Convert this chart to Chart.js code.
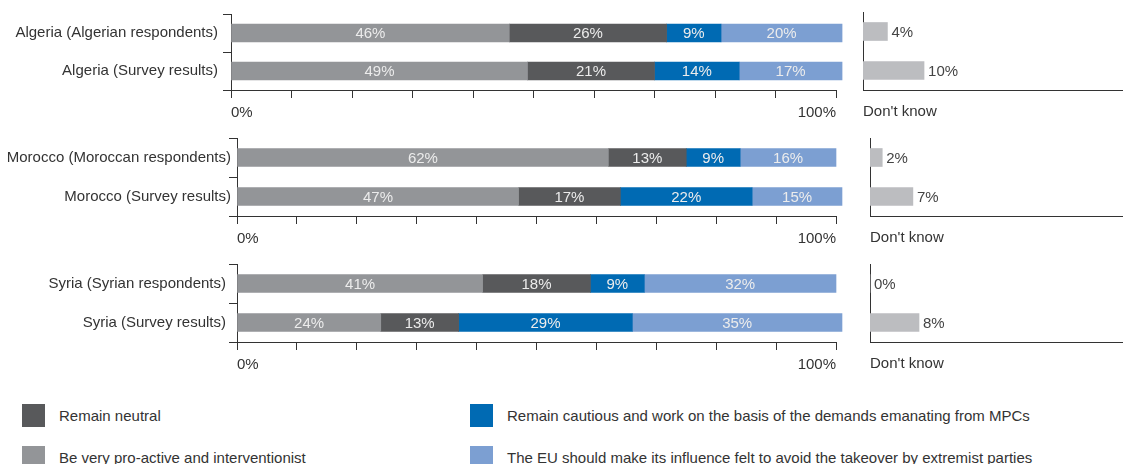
<!DOCTYPE html>
<html>
<head>
<meta charset="utf-8">
<script src="https://cdn.jsdelivr.net/npm/chart.js@4.4.1/dist/chart.umd.min.js"></script>
<style>
  html, body { margin: 0; padding: 0; background: #fff; }
  body { width: 1123px; height: 464px; position: relative; overflow: hidden;
         font-family: "Liberation Sans", Arial, sans-serif; color: #333; }
  canvas { position: absolute; }
  .legend-item { position: absolute; display: flex; align-items: center; gap: 14px; font-size: 15px; }
  .legend-item .swatch { width: 23px; height: 23px; flex-shrink: 0; }
</style>
</head>
<body>
<div id="wrap"></div>
<script>
// respondent groups, two per panel
const CATEGORIES = [
  'Algeria (Algerian respondents)', 'Algeria (Survey results)',
  'Morocco (Moroccan respondents)', 'Morocco (Survey results)',
  'Syria (Syrian respondents)',     'Syria (Survey results)',
];

const PROACTIVE    = [46, 49, 62, 47, 41, 24];
const NEUTRAL      = [26, 21, 13, 17, 18, 13];
const CAUTIOUS     = [ 9, 14,  9, 22,  9, 29];
const EU_INFLUENCE = [20, 17, 16, 15, 32, 35];
const DONT_KNOW    = [ 4, 10,  2,  7,  0,  8];

const SERIES_NAMES = [
  'Be very pro-active and interventionist',
  'Remain neutral',
  'Remain cautious and work on the basis of the demands emanating from MPCs',
  'The EU should make its influence felt to avoid the takeover by extremist parties',
];

const COLORS = {
  proactive: '#939598',
  neutral:   '#58595b',
  cautious:  '#006ab3',
  eu:        '#7c9fd2',
  dontKnow:  '#bcbdc0',
};

const AXIS  = '#333333';
const FONT  = { family: '"Liberation Sans", Arial, sans-serif', size: 15 };
const FONT_CSS = '15px "Liberation Sans", Arial, sans-serif';

// per panel placement
const PANEL_TOP   = [0, 126, 252];
const Y_AXIS_W    = [231, 237, 237];
const Y_LABEL_PAD = [5, -2, 3];
const DK_PAD_LEFT = [12, 19, 19];
const DK_MAX      = [42.6, 41.3, 41.3];

const segmentLabels = {
  id: 'segmentLabels',
  afterDatasetsDraw(chart) {
    const { ctx } = chart;
    ctx.save();
    ctx.font = FONT_CSS;
    ctx.fillStyle = '#ececec';
    ctx.textAlign = 'center';
    ctx.textBaseline = 'middle';
    chart.data.datasets.forEach((ds, i) => {
      chart.getDatasetMeta(i).data.forEach((bar, j) => {
        const v = ds.data[j];
        if (!v) return;
        ctx.fillText(v + '%', (bar.x + bar.base) / 2, bar.y + 1);
      });
    });
    ctx.restore();
  },
};

const endLabels = {
  id: 'endLabels',
  afterDatasetsDraw(chart) {
    const { ctx } = chart;
    ctx.save();
    ctx.font = FONT_CSS;
    ctx.fillStyle = '#444';
    ctx.textAlign = 'left';
    ctx.textBaseline = 'middle';
    const ds = chart.data.datasets[0];
    chart.getDatasetMeta(0).data.forEach((bar, j) => {
      ctx.fillText(ds.data[j] + '%', bar.x + 4, bar.y + 1);
    });
    ctx.restore();
  },
};

function addCanvas(left, top, w, h) {
  const c = document.createElement('canvas');
  c.width = w; c.height = h;
  c.style.left = left + 'px';
  c.style.top = top + 'px';
  c.style.width = w + 'px';
  c.style.height = h + 'px';
  document.getElementById('wrap').appendChild(c);
  return c.getContext('2d');
}

function mainChart(p) {
  const a = p * 2, b = a + 2;
  const series = [
    [PROACTIVE, COLORS.proactive, SERIES_NAMES[0]],
    [NEUTRAL, COLORS.neutral, SERIES_NAMES[1]],
    [CAUTIOUS, COLORS.cautious, SERIES_NAMES[2]],
    [EU_INFLUENCE, COLORS.eu, SERIES_NAMES[3]],
  ];
  new Chart(addCanvas(0, PANEL_TOP[p], 851, 124), {
    type: 'bar',
    data: {
      labels: CATEGORIES.slice(a, b),
      datasets: series.map(([vals, color, name]) => ({
        label: name,
        data: vals.slice(a, b),
        backgroundColor: color,
        barThickness: 18,
        clip: false,
      })),
    },
    options: {
      indexAxis: 'y',
      responsive: false,
      animation: false,
      layout: { padding: { top: 12, right: 15, left: 0, bottom: 0 } },
      plugins: { legend: { display: false }, tooltip: { enabled: false } },
      scales: {
        x: {
          stacked: true, min: 0, max: 100,
          ticks: {
            stepSize: 10, autoSkip: false, maxRotation: 0, align: 'inner',
            padding: 6, color: AXIS, font: FONT,
            callback: (v) => (v === 0 ? '0%' : v === 100 ? '100%' : ''),
          },
          grid: { drawOnChartArea: false, tickLength: 8, color: AXIS },
          border: { color: AXIS },
          afterFit: (s) => { s.height = 34; },
        },
        y: {
          stacked: true,
          ticks: { color: AXIS, font: FONT, padding: Y_LABEL_PAD[p] },
          grid: { drawOnChartArea: false, tickLength: 8, color: AXIS },
          border: { color: AXIS },
          afterFit: (s) => { s.width = Y_AXIS_W[p]; },
        },
      },
    },
    plugins: [segmentLabels],
  });
}

function dontKnowChart(p) {
  const a = p * 2, b = a + 2;
  new Chart(addCanvas(851, PANEL_TOP[p], 272, 124), {
    type: 'bar',
    data: {
      labels: CATEGORIES.slice(a, b),
      datasets: [{ label: "Don't know", data: DONT_KNOW.slice(a, b), backgroundColor: COLORS.dontKnow, barThickness: 18 }],
    },
    options: {
      indexAxis: 'y',
      responsive: false,
      animation: false,
      layout: { padding: { top: 12, right: 0, left: DK_PAD_LEFT[p], bottom: 0 } },
      plugins: { legend: { display: false }, tooltip: { enabled: false } },
      scales: {
        x: {
          min: 0, max: DK_MAX[p],
          ticks: { display: false },
          grid: { display: false, drawTicks: false },
          border: { color: AXIS },
          title: { display: true, text: "Don't know", align: 'start', color: AXIS, font: FONT, padding: { top: 0, bottom: 3 } },
          afterFit: (s) => { s.height = 34; },
        },
        y: {
          ticks: { display: false },
          grid: { display: false, drawTicks: false },
          border: { color: AXIS },
          afterFit: (s) => { s.width = 0; },
        },
      },
    },
    plugins: [endLabels],
  });
}

function renderLegend() {
  const items = [
    { name: SERIES_NAMES[1], color: COLORS.neutral,   left: 22,  top: 404 },
    { name: SERIES_NAMES[2], color: COLORS.cautious,  left: 470, top: 404 },
    { name: SERIES_NAMES[0], color: COLORS.proactive, left: 22,  top: 446 },
    { name: SERIES_NAMES[3], color: COLORS.eu,        left: 470, top: 446 },
  ];
  document.getElementById('wrap').insertAdjacentHTML('beforeend', items.map((it) => `
    <div class="legend-item" style="left:${it.left}px;top:${it.top}px">
      <div class="swatch" style="background:${it.color}"></div>
      <span>${it.name}</span>
    </div>
  `).join(''));
}

[0, 1, 2].forEach((p) => { mainChart(p); dontKnowChart(p); });
renderLegend();
</script>
</body>
</html>
